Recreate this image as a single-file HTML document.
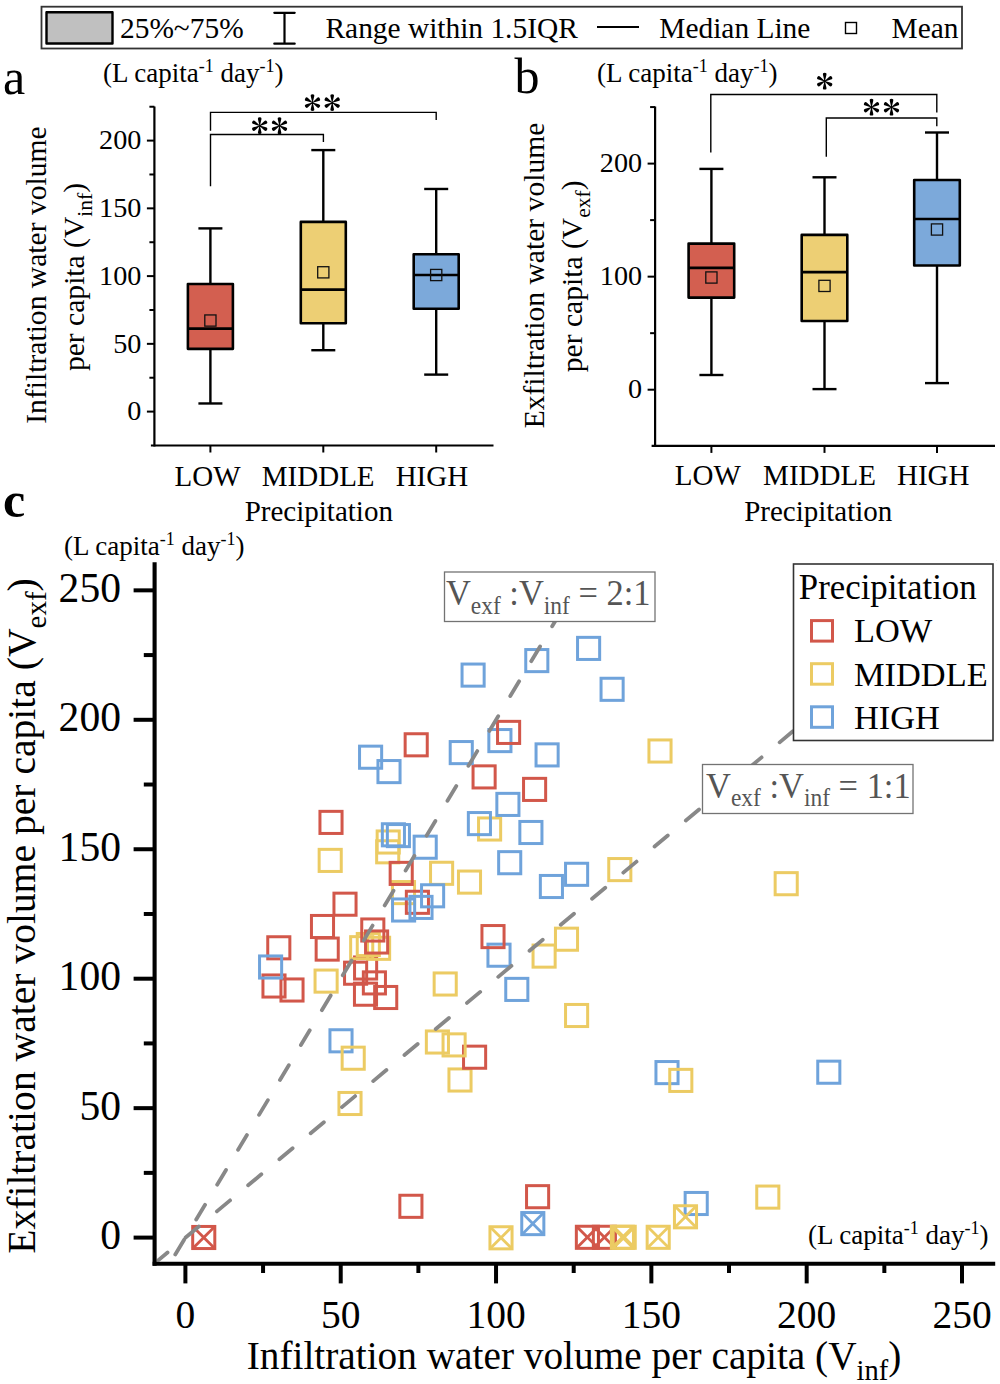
<!DOCTYPE html>
<html><head><meta charset="utf-8"><style>
html,body{margin:0;padding:0;background:#fff;}
svg{display:block;font-family:"Liberation Serif",serif;}
</style></head><body>
<svg width="1000" height="1384" viewBox="0 0 1000 1384">
<rect x="0" y="0" width="1000" height="1384" fill="#fff"/>
<rect x="41.5" y="6.7" width="920.5" height="41.8" fill="#fff" stroke="#333" stroke-width="1.8" />
<rect x="46.5" y="12.3" width="66" height="31.2" fill="#C0C0C0" stroke="#000" stroke-width="2.4" stroke-linejoin="round"/>
<text x="120" y="38.3" font-size="29.4" text-anchor="start" fill="#000" >25%~75%</text>
<line x1="284.5" y1="12.8" x2="284.5" y2="43.7" stroke="#000" stroke-width="2.2" />
<line x1="274.3" y1="12.8" x2="294.7" y2="12.8" stroke="#000" stroke-width="2.2" stroke-linecap="round"/>
<line x1="274.3" y1="43.7" x2="294.7" y2="43.7" stroke="#000" stroke-width="2.2" stroke-linecap="round"/>
<text x="325.5" y="38.3" font-size="29.4" text-anchor="start" fill="#000" >Range within 1.5IQR</text>
<line x1="597" y1="27" x2="639" y2="27" stroke="#000" stroke-width="2" />
<text x="659.3" y="38.3" font-size="29.4" text-anchor="start" fill="#000" >Median Line</text>
<rect x="845.5" y="22.5" width="11" height="11" fill="none" stroke="#000" stroke-width="1.4" />
<text x="891.5" y="38.3" font-size="29.4" text-anchor="start" fill="#000" >Mean</text>
<text x="3" y="94" font-size="50" text-anchor="start" fill="#000" >a</text>
<text x="514.5" y="92.5" font-size="50" text-anchor="start" fill="#000" >b</text>
<text x="3" y="517.3" font-size="50" text-anchor="start" fill="#000" font-weight="bold">c</text>
<line x1="154.4" y1="106.5" x2="154.4" y2="446.6" stroke="#000" stroke-width="2.2" />
<line x1="150.9" y1="445.5" x2="493.5" y2="445.5" stroke="#000" stroke-width="2.2" />
<line x1="146.9" y1="411.6" x2="154.4" y2="411.6" stroke="#000" stroke-width="2" />
<text x="141.4" y="420.3" font-size="28.2" text-anchor="end" fill="#000" >0</text>
<line x1="146.9" y1="343.85" x2="154.4" y2="343.85" stroke="#000" stroke-width="2" />
<text x="141.4" y="352.55" font-size="28.2" text-anchor="end" fill="#000" >50</text>
<line x1="146.9" y1="276.1" x2="154.4" y2="276.1" stroke="#000" stroke-width="2" />
<text x="141.4" y="284.8" font-size="28.2" text-anchor="end" fill="#000" >100</text>
<line x1="146.9" y1="208.35" x2="154.4" y2="208.35" stroke="#000" stroke-width="2" />
<text x="141.4" y="217.05" font-size="28.2" text-anchor="end" fill="#000" >150</text>
<line x1="146.9" y1="140.6" x2="154.4" y2="140.6" stroke="#000" stroke-width="2" />
<text x="141.4" y="149.3" font-size="28.2" text-anchor="end" fill="#000" >200</text>
<line x1="149.4" y1="377.73" x2="154.4" y2="377.73" stroke="#000" stroke-width="2" />
<line x1="149.4" y1="309.98" x2="154.4" y2="309.98" stroke="#000" stroke-width="2" />
<line x1="149.4" y1="242.23" x2="154.4" y2="242.23" stroke="#000" stroke-width="2" />
<line x1="149.4" y1="174.48" x2="154.4" y2="174.48" stroke="#000" stroke-width="2" />
<line x1="149.4" y1="106.73" x2="154.4" y2="106.73" stroke="#000" stroke-width="2" />
<line x1="210.4" y1="445.5" x2="210.4" y2="452.5" stroke="#000" stroke-width="2" />
<line x1="323.3" y1="445.5" x2="323.3" y2="452.5" stroke="#000" stroke-width="2" />
<line x1="436.2" y1="445.5" x2="436.2" y2="452.5" stroke="#000" stroke-width="2" />
<line x1="210.4" y1="228.4" x2="210.4" y2="283.96" stroke="#000" stroke-width="2.4" />
<line x1="210.4" y1="348.86" x2="210.4" y2="403.47" stroke="#000" stroke-width="2.4" />
<line x1="198.4" y1="228.4" x2="222.4" y2="228.4" stroke="#000" stroke-width="2.4" />
<line x1="198.4" y1="403.47" x2="222.4" y2="403.47" stroke="#000" stroke-width="2.4" />
<rect x="187.9" y="283.96" width="45" height="64.9" fill="#D35F50" stroke="#000" stroke-width="2.6" stroke-linejoin="round"/>
<line x1="187.9" y1="328.67" x2="232.9" y2="328.67" stroke="#000" stroke-width="2.6" />
<rect x="204.8" y="314.94" width="11.2" height="11.2" fill="none" stroke="#111" stroke-width="1.3" />
<line x1="323.3" y1="150.09" x2="323.3" y2="221.9" stroke="#000" stroke-width="2.4" />
<line x1="323.3" y1="323.25" x2="323.3" y2="350.22" stroke="#000" stroke-width="2.4" />
<line x1="311.3" y1="150.09" x2="335.3" y2="150.09" stroke="#000" stroke-width="2.4" />
<line x1="311.3" y1="350.22" x2="335.3" y2="350.22" stroke="#000" stroke-width="2.4" />
<rect x="300.8" y="221.9" width="45" height="101.35" fill="#EDCF74" stroke="#000" stroke-width="2.6" stroke-linejoin="round"/>
<line x1="300.8" y1="289.65" x2="345.8" y2="289.65" stroke="#000" stroke-width="2.6" />
<rect x="317.7" y="266.71" width="11.2" height="11.2" fill="none" stroke="#111" stroke-width="1.3" />
<line x1="436.2" y1="188.97" x2="436.2" y2="254.28" stroke="#000" stroke-width="2.4" />
<line x1="436.2" y1="308.76" x2="436.2" y2="374.61" stroke="#000" stroke-width="2.4" />
<line x1="424.2" y1="188.97" x2="448.2" y2="188.97" stroke="#000" stroke-width="2.4" />
<line x1="424.2" y1="374.61" x2="448.2" y2="374.61" stroke="#000" stroke-width="2.4" />
<rect x="413.7" y="254.28" width="45" height="54.47" fill="#7CA9DA" stroke="#000" stroke-width="2.6" stroke-linejoin="round"/>
<line x1="413.7" y1="275.02" x2="458.7" y2="275.02" stroke="#000" stroke-width="2.6" />
<rect x="430.6" y="269.42" width="11.2" height="11.2" fill="none" stroke="#111" stroke-width="1.3" />
<line x1="655.1" y1="106.6" x2="655.1" y2="447" stroke="#000" stroke-width="2.2" />
<line x1="651.6" y1="445.9" x2="995" y2="445.9" stroke="#000" stroke-width="2.2" />
<line x1="647.6" y1="389.7" x2="655.1" y2="389.7" stroke="#000" stroke-width="2" />
<text x="642.1" y="398.4" font-size="28.2" text-anchor="end" fill="#000" >0</text>
<line x1="647.6" y1="276.65" x2="655.1" y2="276.65" stroke="#000" stroke-width="2" />
<text x="642.1" y="285.35" font-size="28.2" text-anchor="end" fill="#000" >100</text>
<line x1="647.6" y1="163.6" x2="655.1" y2="163.6" stroke="#000" stroke-width="2" />
<text x="642.1" y="172.3" font-size="28.2" text-anchor="end" fill="#000" >200</text>
<line x1="650.1" y1="333.17" x2="655.1" y2="333.17" stroke="#000" stroke-width="2" />
<line x1="650.1" y1="220.12" x2="655.1" y2="220.12" stroke="#000" stroke-width="2" />
<line x1="650.1" y1="107.07" x2="655.1" y2="107.07" stroke="#000" stroke-width="2" />
<line x1="711.4" y1="445.9" x2="711.4" y2="452.9" stroke="#000" stroke-width="2" />
<line x1="824.5" y1="445.9" x2="824.5" y2="452.9" stroke="#000" stroke-width="2" />
<line x1="937" y1="445.9" x2="937" y2="452.9" stroke="#000" stroke-width="2" />
<line x1="711.4" y1="168.9" x2="711.4" y2="243.6" stroke="#000" stroke-width="2.4" />
<line x1="711.4" y1="297.6" x2="711.4" y2="375" stroke="#000" stroke-width="2.4" />
<line x1="699.4" y1="168.9" x2="723.4" y2="168.9" stroke="#000" stroke-width="2.4" />
<line x1="699.4" y1="375" x2="723.4" y2="375" stroke="#000" stroke-width="2.4" />
<rect x="688.6" y="243.6" width="45.6" height="54" fill="#D35F50" stroke="#000" stroke-width="2.6" stroke-linejoin="round"/>
<line x1="688.6" y1="267.9" x2="734.2" y2="267.9" stroke="#000" stroke-width="2.6" />
<rect x="705.8" y="271.9" width="11.2" height="11.2" fill="none" stroke="#111" stroke-width="1.3" />
<line x1="824.5" y1="177.3" x2="824.5" y2="234.9" stroke="#000" stroke-width="2.4" />
<line x1="824.5" y1="321" x2="824.5" y2="389.1" stroke="#000" stroke-width="2.4" />
<line x1="812.5" y1="177.3" x2="836.5" y2="177.3" stroke="#000" stroke-width="2.4" />
<line x1="812.5" y1="389.1" x2="836.5" y2="389.1" stroke="#000" stroke-width="2.4" />
<rect x="801.7" y="234.9" width="45.6" height="86.1" fill="#EDCF74" stroke="#000" stroke-width="2.6" stroke-linejoin="round"/>
<line x1="801.7" y1="272.1" x2="847.3" y2="272.1" stroke="#000" stroke-width="2.6" />
<rect x="818.9" y="280.3" width="11.2" height="11.2" fill="none" stroke="#111" stroke-width="1.3" />
<line x1="937" y1="132.5" x2="937" y2="180" stroke="#000" stroke-width="2.4" />
<line x1="937" y1="265.5" x2="937" y2="383.1" stroke="#000" stroke-width="2.4" />
<line x1="925" y1="132.5" x2="949" y2="132.5" stroke="#000" stroke-width="2.4" />
<line x1="925" y1="383.1" x2="949" y2="383.1" stroke="#000" stroke-width="2.4" />
<rect x="914.2" y="180" width="45.6" height="85.5" fill="#7CA9DA" stroke="#000" stroke-width="2.6" stroke-linejoin="round"/>
<line x1="914.2" y1="219" x2="959.8" y2="219" stroke="#000" stroke-width="2.6" />
<rect x="931.4" y="223.9" width="11.2" height="11.2" fill="none" stroke="#111" stroke-width="1.3" />
<text x="207.5" y="485.5" font-size="29" text-anchor="middle" fill="#000" >LOW</text>
<text x="318.2" y="485.5" font-size="29" text-anchor="middle" fill="#000" >MIDDLE</text>
<text x="431.9" y="485.5" font-size="29" text-anchor="middle" fill="#000" >HIGH</text>
<text x="318.8" y="521.3" font-size="29" text-anchor="middle" fill="#000" >Precipitation</text>
<text x="707.75" y="485" font-size="29" text-anchor="middle" fill="#000" >LOW</text>
<text x="819.5" y="485" font-size="29" text-anchor="middle" fill="#000" >MIDDLE</text>
<text x="933.25" y="485" font-size="29" text-anchor="middle" fill="#000" >HIGH</text>
<text x="818.25" y="521" font-size="29" text-anchor="middle" fill="#000" >Precipitation</text>
<text x="103" y="82.2" font-size="27" text-anchor="start" fill="#000" >(L capita<tspan font-size="18" dy="-10.5">-1</tspan><tspan dy="10.5"> day</tspan><tspan font-size="18" dy="-10.5">-1</tspan><tspan dy="10.5">)</tspan></text>
<text x="597" y="82.2" font-size="27" text-anchor="start" fill="#000" >(L capita<tspan font-size="18" dy="-10.5">-1</tspan><tspan dy="10.5"> day</tspan><tspan font-size="18" dy="-10.5">-1</tspan><tspan dy="10.5">)</tspan></text>
<text transform="translate(46.4,275) rotate(-90)" font-size="29.6" text-anchor="middle">Infiltration water volume</text>
<text transform="translate(84,277) rotate(-90)" font-size="29.6" text-anchor="middle">per capita (V<tspan font-size="21.5" dy="8">inf</tspan><tspan dy="-8">)</tspan></text>
<text transform="translate(544.4,275.5) rotate(-90)" font-size="29.6" text-anchor="middle">Exfiltration water volume</text>
<text transform="translate(581.6,276.4) rotate(-90)" font-size="29.6" text-anchor="middle">per capita (V<tspan font-size="21.5" dy="8">exf</tspan><tspan dy="-8">)</tspan></text>
<polyline points="210.5,130.7 210.5,112.4 436.2,112.4 436.2,120" fill="none" stroke="#000" stroke-width="1.4"/>
<polyline points="210.5,186.2 210.5,134.5 323.4,134.5 323.4,142" fill="none" stroke="#000" stroke-width="1.4"/>
<polyline points="710.8,152.5 710.8,94.5 936.8,94.5 936.8,112.5" fill="none" stroke="#000" stroke-width="1.4"/>
<polyline points="826.3,156.8 826.3,118 936.8,118 936.8,126.3" fill="none" stroke="#000" stroke-width="1.4"/>
<path d="M312.25,102.6 L310.81,96.41 A1.75,1.75 0 1 1 314.19,96.41 L312.75,102.6 Z M312.38,102.38 L317.02,98.04 A1.75,1.75 0 1 1 318.7,100.97 L312.62,102.82 Z M312.62,102.38 L318.7,104.23 A1.75,1.75 0 1 1 317.02,107.16 L312.38,102.82 Z M312.75,102.6 L314.19,108.79 A1.75,1.75 0 1 1 310.81,108.79 L312.25,102.6 Z M312.62,102.82 L307.98,107.16 A1.75,1.75 0 1 1 306.3,104.23 L312.38,102.38 Z M312.38,102.82 L306.3,100.97 A1.75,1.75 0 1 1 307.98,98.04 L312.62,102.38 Z" fill="#000"/>
<path d="M331.95,102.6 L330.51,96.41 A1.75,1.75 0 1 1 333.89,96.41 L332.45,102.6 Z M332.07,102.38 L336.72,98.04 A1.75,1.75 0 1 1 338.4,100.97 L332.32,102.82 Z M332.32,102.38 L338.4,104.23 A1.75,1.75 0 1 1 336.72,107.16 L332.07,102.82 Z M332.45,102.6 L333.89,108.79 A1.75,1.75 0 1 1 330.51,108.79 L331.95,102.6 Z M332.32,102.82 L327.68,107.16 A1.75,1.75 0 1 1 326,104.23 L332.07,102.38 Z M332.07,102.82 L326,100.97 A1.75,1.75 0 1 1 327.68,98.04 L332.32,102.38 Z" fill="#000"/>
<path d="M259.45,125.7 L258.01,119.51 A1.75,1.75 0 1 1 261.39,119.51 L259.95,125.7 Z M259.57,125.48 L264.22,121.14 A1.75,1.75 0 1 1 265.9,124.07 L259.82,125.92 Z M259.82,125.48 L265.9,127.33 A1.75,1.75 0 1 1 264.22,130.26 L259.57,125.92 Z M259.95,125.7 L261.39,131.89 A1.75,1.75 0 1 1 258.01,131.89 L259.45,125.7 Z M259.82,125.92 L255.18,130.26 A1.75,1.75 0 1 1 253.5,127.33 L259.57,125.48 Z M259.57,125.92 L253.5,124.07 A1.75,1.75 0 1 1 255.18,121.14 L259.82,125.48 Z" fill="#000"/>
<path d="M279.25,125.7 L277.81,119.51 A1.75,1.75 0 1 1 281.19,119.51 L279.75,125.7 Z M279.38,125.48 L284.02,121.14 A1.75,1.75 0 1 1 285.7,124.07 L279.62,125.92 Z M279.62,125.48 L285.7,127.33 A1.75,1.75 0 1 1 284.02,130.26 L279.38,125.92 Z M279.75,125.7 L281.19,131.89 A1.75,1.75 0 1 1 277.81,131.89 L279.25,125.7 Z M279.62,125.92 L274.98,130.26 A1.75,1.75 0 1 1 273.3,127.33 L279.38,125.48 Z M279.38,125.92 L273.3,124.07 A1.75,1.75 0 1 1 274.98,121.14 L279.62,125.48 Z" fill="#000"/>
<path d="M824.45,81.2 L823.01,75.01 A1.75,1.75 0 1 1 826.39,75.01 L824.95,81.2 Z M824.58,80.98 L829.22,76.64 A1.75,1.75 0 1 1 830.9,79.57 L824.83,81.42 Z M824.83,80.98 L830.9,82.83 A1.75,1.75 0 1 1 829.22,85.76 L824.58,81.42 Z M824.95,81.2 L826.39,87.39 A1.75,1.75 0 1 1 823.01,87.39 L824.45,81.2 Z M824.83,81.42 L820.18,85.76 A1.75,1.75 0 1 1 818.5,82.83 L824.58,80.98 Z M824.58,81.42 L818.5,79.57 A1.75,1.75 0 1 1 820.18,76.64 L824.83,80.98 Z" fill="#000"/>
<path d="M871.25,107.2 L869.81,101.01 A1.75,1.75 0 1 1 873.19,101.01 L871.75,107.2 Z M871.38,106.98 L876.02,102.64 A1.75,1.75 0 1 1 877.7,105.57 L871.62,107.42 Z M871.62,106.98 L877.7,108.83 A1.75,1.75 0 1 1 876.02,111.76 L871.38,107.42 Z M871.75,107.2 L873.19,113.39 A1.75,1.75 0 1 1 869.81,113.39 L871.25,107.2 Z M871.62,107.42 L866.98,111.76 A1.75,1.75 0 1 1 865.3,108.83 L871.38,106.98 Z M871.38,107.42 L865.3,105.57 A1.75,1.75 0 1 1 866.98,102.64 L871.62,106.98 Z" fill="#000"/>
<path d="M891.25,107.2 L889.81,101.01 A1.75,1.75 0 1 1 893.19,101.01 L891.75,107.2 Z M891.38,106.98 L896.02,102.64 A1.75,1.75 0 1 1 897.7,105.57 L891.62,107.42 Z M891.62,106.98 L897.7,108.83 A1.75,1.75 0 1 1 896.02,111.76 L891.38,107.42 Z M891.75,107.2 L893.19,113.39 A1.75,1.75 0 1 1 889.81,113.39 L891.25,107.2 Z M891.62,107.42 L886.98,111.76 A1.75,1.75 0 1 1 885.3,108.83 L891.38,106.98 Z M891.38,107.42 L885.3,105.57 A1.75,1.75 0 1 1 886.98,102.64 L891.62,106.98 Z" fill="#000"/>
<defs><clipPath id="pc"><rect x="156.6" y="560" width="840" height="701.7"/></clipPath></defs>
<rect x="354.55" y="956.95" width="22.1" height="22.1" fill="none" stroke="#D2574A" stroke-width="3.0" />
<rect x="319.15" y="849.35" width="22.1" height="22.1" fill="none" stroke="#ECCB63" stroke-width="3.0" />
<rect x="377.15" y="830.95" width="22.1" height="22.1" fill="none" stroke="#ECCB63" stroke-width="3.0" />
<rect x="376.65" y="840.75" width="22.1" height="22.1" fill="none" stroke="#ECCB63" stroke-width="3.0" />
<rect x="392.45" y="881.55" width="22.1" height="22.1" fill="none" stroke="#ECCB63" stroke-width="3.0" />
<rect x="430.55" y="862.25" width="22.1" height="22.1" fill="none" stroke="#ECCB63" stroke-width="3.0" />
<rect x="458.45" y="871.05" width="22.1" height="22.1" fill="none" stroke="#ECCB63" stroke-width="3.0" />
<rect x="478.55" y="817.95" width="22.1" height="22.1" fill="none" stroke="#ECCB63" stroke-width="3.0" />
<rect x="608.75" y="858.55" width="22.1" height="22.1" fill="none" stroke="#ECCB63" stroke-width="3.0" />
<rect x="648.95" y="739.95" width="22.1" height="22.1" fill="none" stroke="#ECCB63" stroke-width="3.0" />
<rect x="775.15" y="872.65" width="22.1" height="22.1" fill="none" stroke="#ECCB63" stroke-width="3.0" />
<rect x="315.05" y="970.05" width="22.1" height="22.1" fill="none" stroke="#ECCB63" stroke-width="3.0" />
<rect x="350.65" y="936.65" width="22.1" height="22.1" fill="none" stroke="#ECCB63" stroke-width="3.0" />
<rect x="357.25" y="933.45" width="22.1" height="22.1" fill="none" stroke="#ECCB63" stroke-width="3.0" />
<rect x="367.55" y="937.25" width="22.1" height="22.1" fill="none" stroke="#ECCB63" stroke-width="3.0" />
<rect x="555.45" y="928.15" width="22.1" height="22.1" fill="none" stroke="#ECCB63" stroke-width="3.0" />
<rect x="533.05" y="945.05" width="22.1" height="22.1" fill="none" stroke="#ECCB63" stroke-width="3.0" />
<rect x="434.15" y="972.95" width="22.1" height="22.1" fill="none" stroke="#ECCB63" stroke-width="3.0" />
<rect x="565.55" y="1004.45" width="22.1" height="22.1" fill="none" stroke="#ECCB63" stroke-width="3.0" />
<rect x="426.35" y="1030.95" width="22.1" height="22.1" fill="none" stroke="#ECCB63" stroke-width="3.0" />
<rect x="448.95" y="1068.95" width="22.1" height="22.1" fill="none" stroke="#ECCB63" stroke-width="3.0" />
<rect x="338.95" y="1092.45" width="22.1" height="22.1" fill="none" stroke="#ECCB63" stroke-width="3.0" />
<rect x="756.75" y="1186.05" width="22.1" height="22.1" fill="none" stroke="#ECCB63" stroke-width="3.0" />
<rect x="489.95" y="1226.75" width="22.1" height="22.1" fill="none" stroke="#ECCB63" stroke-width="3.0" />
<line x1="489.95" y1="1226.75" x2="512.05" y2="1248.85" stroke="#ECCB63" stroke-width="2.8" />
<line x1="489.95" y1="1248.85" x2="512.05" y2="1226.75" stroke="#ECCB63" stroke-width="2.8" />
<rect x="647.15" y="1226.25" width="22.1" height="22.1" fill="none" stroke="#ECCB63" stroke-width="3.0" />
<line x1="647.15" y1="1226.25" x2="669.25" y2="1248.35" stroke="#ECCB63" stroke-width="2.8" />
<line x1="647.15" y1="1248.35" x2="669.25" y2="1226.25" stroke="#ECCB63" stroke-width="2.8" />
<rect x="405.15" y="733.75" width="22.1" height="22.1" fill="none" stroke="#D2574A" stroke-width="3.0" />
<rect x="319.95" y="811.35" width="22.1" height="22.1" fill="none" stroke="#D2574A" stroke-width="3.0" />
<rect x="473.05" y="765.85" width="22.1" height="22.1" fill="none" stroke="#D2574A" stroke-width="3.0" />
<rect x="523.55" y="778.35" width="22.1" height="22.1" fill="none" stroke="#D2574A" stroke-width="3.0" />
<rect x="390.15" y="862.35" width="22.1" height="22.1" fill="none" stroke="#D2574A" stroke-width="3.0" />
<rect x="333.95" y="893.15" width="22.1" height="22.1" fill="none" stroke="#D2574A" stroke-width="3.0" />
<rect x="406.35" y="891.25" width="22.1" height="22.1" fill="none" stroke="#D2574A" stroke-width="3.0" />
<rect x="311.45" y="915.45" width="22.1" height="22.1" fill="none" stroke="#D2574A" stroke-width="3.0" />
<rect x="316.15" y="938.05" width="22.1" height="22.1" fill="none" stroke="#D2574A" stroke-width="3.0" />
<rect x="267.75" y="936.75" width="22.1" height="22.1" fill="none" stroke="#D2574A" stroke-width="3.0" />
<rect x="262.95" y="974.95" width="22.1" height="22.1" fill="none" stroke="#D2574A" stroke-width="3.0" />
<rect x="280.95" y="978.95" width="22.1" height="22.1" fill="none" stroke="#D2574A" stroke-width="3.0" />
<rect x="361.75" y="918.95" width="22.1" height="22.1" fill="none" stroke="#D2574A" stroke-width="3.0" />
<rect x="365.55" y="930.95" width="22.1" height="22.1" fill="none" stroke="#D2574A" stroke-width="3.0" />
<rect x="344.55" y="962.15" width="22.1" height="22.1" fill="none" stroke="#D2574A" stroke-width="3.0" />
<rect x="363.35" y="971.85" width="22.1" height="22.1" fill="none" stroke="#D2574A" stroke-width="3.0" />
<rect x="354.45" y="983.15" width="22.1" height="22.1" fill="none" stroke="#D2574A" stroke-width="3.0" />
<rect x="374.65" y="986.45" width="22.1" height="22.1" fill="none" stroke="#D2574A" stroke-width="3.0" />
<rect x="463.55" y="1046.15" width="22.1" height="22.1" fill="none" stroke="#D2574A" stroke-width="3.0" />
<rect x="399.85" y="1195.25" width="22.1" height="22.1" fill="none" stroke="#D2574A" stroke-width="3.0" />
<rect x="526.55" y="1185.65" width="22.1" height="22.1" fill="none" stroke="#D2574A" stroke-width="3.0" />
<rect x="192.7" y="1226.45" width="22.1" height="22.1" fill="none" stroke="#D2574A" stroke-width="3.0" />
<line x1="192.7" y1="1226.45" x2="214.8" y2="1248.55" stroke="#D2574A" stroke-width="2.8" />
<line x1="192.7" y1="1248.55" x2="214.8" y2="1226.45" stroke="#D2574A" stroke-width="2.8" />
<rect x="576.35" y="1226.25" width="22.1" height="22.1" fill="none" stroke="#D2574A" stroke-width="3.0" />
<line x1="576.35" y1="1226.25" x2="598.45" y2="1248.35" stroke="#D2574A" stroke-width="2.8" />
<line x1="576.35" y1="1248.35" x2="598.45" y2="1226.25" stroke="#D2574A" stroke-width="2.8" />
<rect x="593.35" y="1226.25" width="22.1" height="22.1" fill="none" stroke="#D2574A" stroke-width="3.0" />
<line x1="593.35" y1="1226.25" x2="615.45" y2="1248.35" stroke="#D2574A" stroke-width="2.8" />
<line x1="593.35" y1="1248.35" x2="615.45" y2="1226.25" stroke="#D2574A" stroke-width="2.8" />
<rect x="443.05" y="1033.85" width="22.1" height="22.1" fill="none" stroke="#ECCB63" stroke-width="3.0" />
<rect x="611.35" y="1226.25" width="22.1" height="22.1" fill="none" stroke="#ECCB63" stroke-width="3.0" />
<line x1="611.35" y1="1226.25" x2="633.45" y2="1248.35" stroke="#ECCB63" stroke-width="2.8" />
<line x1="611.35" y1="1248.35" x2="633.45" y2="1226.25" stroke="#ECCB63" stroke-width="2.8" />
<rect x="613.15" y="1226.25" width="22.1" height="22.1" fill="none" stroke="#ECCB63" stroke-width="3.0" />
<line x1="613.15" y1="1226.25" x2="635.25" y2="1248.35" stroke="#ECCB63" stroke-width="2.8" />
<line x1="613.15" y1="1248.35" x2="635.25" y2="1226.25" stroke="#ECCB63" stroke-width="2.8" />
<rect x="359.55" y="746.15" width="22.1" height="22.1" fill="none" stroke="#6FA3DB" stroke-width="3.0" />
<rect x="377.95" y="760.55" width="22.1" height="22.1" fill="none" stroke="#6FA3DB" stroke-width="3.0" />
<rect x="382.35" y="823.75" width="22.1" height="22.1" fill="none" stroke="#6FA3DB" stroke-width="3.0" />
<rect x="387.35" y="824.55" width="22.1" height="22.1" fill="none" stroke="#6FA3DB" stroke-width="3.0" />
<rect x="414.15" y="836.15" width="22.1" height="22.1" fill="none" stroke="#6FA3DB" stroke-width="3.0" />
<rect x="421.55" y="884.75" width="22.1" height="22.1" fill="none" stroke="#6FA3DB" stroke-width="3.0" />
<rect x="409.95" y="896.35" width="22.1" height="22.1" fill="none" stroke="#6FA3DB" stroke-width="3.0" />
<rect x="392.55" y="898.95" width="22.1" height="22.1" fill="none" stroke="#6FA3DB" stroke-width="3.0" />
<rect x="259.55" y="955.95" width="22.1" height="22.1" fill="none" stroke="#6FA3DB" stroke-width="3.0" />
<rect x="525.75" y="649.55" width="22.1" height="22.1" fill="none" stroke="#6FA3DB" stroke-width="3.0" />
<rect x="577.55" y="637.35" width="22.1" height="22.1" fill="none" stroke="#6FA3DB" stroke-width="3.0" />
<rect x="462.05" y="664.05" width="22.1" height="22.1" fill="none" stroke="#6FA3DB" stroke-width="3.0" />
<rect x="601.05" y="678.25" width="22.1" height="22.1" fill="none" stroke="#6FA3DB" stroke-width="3.0" />
<rect x="488.85" y="729.55" width="22.1" height="22.1" fill="none" stroke="#6FA3DB" stroke-width="3.0" />
<rect x="450.2" y="741.55" width="22.1" height="22.1" fill="none" stroke="#6FA3DB" stroke-width="3.0" />
<rect x="536.05" y="743.85" width="22.1" height="22.1" fill="none" stroke="#6FA3DB" stroke-width="3.0" />
<rect x="496.85" y="793.35" width="22.1" height="22.1" fill="none" stroke="#6FA3DB" stroke-width="3.0" />
<rect x="468.35" y="812.55" width="22.1" height="22.1" fill="none" stroke="#6FA3DB" stroke-width="3.0" />
<rect x="519.85" y="821.45" width="22.1" height="22.1" fill="none" stroke="#6FA3DB" stroke-width="3.0" />
<rect x="498.65" y="851.65" width="22.1" height="22.1" fill="none" stroke="#6FA3DB" stroke-width="3.0" />
<rect x="565.55" y="863.25" width="22.1" height="22.1" fill="none" stroke="#6FA3DB" stroke-width="3.0" />
<rect x="540.35" y="875.45" width="22.1" height="22.1" fill="none" stroke="#6FA3DB" stroke-width="3.0" />
<rect x="487.95" y="944.15" width="22.1" height="22.1" fill="none" stroke="#6FA3DB" stroke-width="3.0" />
<rect x="505.75" y="978.35" width="22.1" height="22.1" fill="none" stroke="#6FA3DB" stroke-width="3.0" />
<rect x="329.95" y="1029.75" width="22.1" height="22.1" fill="none" stroke="#6FA3DB" stroke-width="3.0" />
<rect x="655.95" y="1061.55" width="22.1" height="22.1" fill="none" stroke="#6FA3DB" stroke-width="3.0" />
<rect x="817.75" y="1061.15" width="22.1" height="22.1" fill="none" stroke="#6FA3DB" stroke-width="3.0" />
<rect x="685.15" y="1192.45" width="22.1" height="22.1" fill="none" stroke="#6FA3DB" stroke-width="3.0" />
<rect x="521.75" y="1212.55" width="22.1" height="22.1" fill="none" stroke="#6FA3DB" stroke-width="3.0" />
<line x1="521.75" y1="1212.55" x2="543.85" y2="1234.65" stroke="#6FA3DB" stroke-width="2.8" />
<line x1="521.75" y1="1234.65" x2="543.85" y2="1212.55" stroke="#6FA3DB" stroke-width="2.8" />
<rect x="342.15" y="1047.15" width="22.1" height="22.1" fill="none" stroke="#ECCB63" stroke-width="3.0" />
<rect x="669.75" y="1069.35" width="22.1" height="22.1" fill="none" stroke="#ECCB63" stroke-width="3.0" />
<rect x="674.45" y="1205.75" width="22.1" height="22.1" fill="none" stroke="#ECCB63" stroke-width="3.0" />
<line x1="674.45" y1="1205.75" x2="696.55" y2="1227.85" stroke="#ECCB63" stroke-width="2.8" />
<line x1="674.45" y1="1227.85" x2="696.55" y2="1205.75" stroke="#ECCB63" stroke-width="2.8" />
<rect x="497.55" y="721.35" width="22.1" height="22.1" fill="none" stroke="#D2574A" stroke-width="3.0" />
<rect x="481.95" y="925.55" width="22.1" height="22.1" fill="none" stroke="#D2574A" stroke-width="3.0" />
<g clip-path="url(#pc)">
<line x1="154.34" y1="1263.49" x2="999.28" y2="559.28" stroke="#888" stroke-width="3.8" stroke-dasharray="17.2 23.5" stroke-linecap="round" fill="none"/>
<line x1="154.34" y1="1289.38" x2="592.34" y2="559.28" stroke="#888" stroke-width="3.8" stroke-dasharray="17.2 23.5" stroke-linecap="round" fill="none"/>
</g>
<line x1="154.6" y1="562.2" x2="154.6" y2="1265.7" stroke="#000" stroke-width="4.1"/>
<line x1="152.6" y1="1263.7" x2="995.2" y2="1263.7" stroke="#000" stroke-width="4"/>
<line x1="133.6" y1="1237.6" x2="154.6" y2="1237.6" stroke="#000" stroke-width="4"/>
<text x="121" y="1249" font-size="41.6" text-anchor="end" fill="#000" >0</text>
<line x1="133.6" y1="1108.15" x2="154.6" y2="1108.15" stroke="#000" stroke-width="4"/>
<text x="121" y="1119.55" font-size="41.6" text-anchor="end" fill="#000" >50</text>
<line x1="133.6" y1="978.7" x2="154.6" y2="978.7" stroke="#000" stroke-width="4"/>
<text x="121" y="990.1" font-size="41.6" text-anchor="end" fill="#000" >100</text>
<line x1="133.6" y1="849.25" x2="154.6" y2="849.25" stroke="#000" stroke-width="4"/>
<text x="121" y="860.65" font-size="41.6" text-anchor="end" fill="#000" >150</text>
<line x1="133.6" y1="719.8" x2="154.6" y2="719.8" stroke="#000" stroke-width="4"/>
<text x="121" y="731.2" font-size="41.6" text-anchor="end" fill="#000" >200</text>
<line x1="133.6" y1="590.35" x2="154.6" y2="590.35" stroke="#000" stroke-width="4"/>
<text x="121" y="601.75" font-size="41.6" text-anchor="end" fill="#000" >250</text>
<line x1="143.8" y1="1172.88" x2="154.6" y2="1172.88" stroke="#000" stroke-width="4"/>
<line x1="143.8" y1="1043.42" x2="154.6" y2="1043.42" stroke="#000" stroke-width="4"/>
<line x1="143.8" y1="913.97" x2="154.6" y2="913.97" stroke="#000" stroke-width="4"/>
<line x1="143.8" y1="784.52" x2="154.6" y2="784.52" stroke="#000" stroke-width="4"/>
<line x1="143.8" y1="655.07" x2="154.6" y2="655.07" stroke="#000" stroke-width="4"/>
<line x1="185.4" y1="1263.7" x2="185.4" y2="1283.4" stroke="#000" stroke-width="4"/>
<text x="185.4" y="1328" font-size="39.5" text-anchor="middle" fill="#000" >0</text>
<line x1="340.72" y1="1263.7" x2="340.72" y2="1283.4" stroke="#000" stroke-width="4"/>
<text x="340.72" y="1328" font-size="39.5" text-anchor="middle" fill="#000" >50</text>
<line x1="496.04" y1="1263.7" x2="496.04" y2="1283.4" stroke="#000" stroke-width="4"/>
<text x="496.04" y="1328" font-size="39.5" text-anchor="middle" fill="#000" >100</text>
<line x1="651.36" y1="1263.7" x2="651.36" y2="1283.4" stroke="#000" stroke-width="4"/>
<text x="651.36" y="1328" font-size="39.5" text-anchor="middle" fill="#000" >150</text>
<line x1="806.68" y1="1263.7" x2="806.68" y2="1283.4" stroke="#000" stroke-width="4"/>
<text x="806.68" y="1328" font-size="39.5" text-anchor="middle" fill="#000" >200</text>
<line x1="962" y1="1263.7" x2="962" y2="1283.4" stroke="#000" stroke-width="4"/>
<text x="962" y="1328" font-size="39.5" text-anchor="middle" fill="#000" >250</text>
<line x1="263.06" y1="1263.7" x2="263.06" y2="1273" stroke="#000" stroke-width="4"/>
<line x1="418.38" y1="1263.7" x2="418.38" y2="1273" stroke="#000" stroke-width="4"/>
<line x1="573.7" y1="1263.7" x2="573.7" y2="1273" stroke="#000" stroke-width="4"/>
<line x1="729.02" y1="1263.7" x2="729.02" y2="1273" stroke="#000" stroke-width="4"/>
<line x1="884.34" y1="1263.7" x2="884.34" y2="1273" stroke="#000" stroke-width="4"/>
<rect x="444.5" y="572" width="210.5" height="49.5" fill="#fff" stroke="#737373" stroke-width="1.3"/>
<text transform="translate(445.9,605.3) scale(0.957,1)" font-size="36" fill="#555">V<tspan font-size="24.5" dy="8.8">exf</tspan><tspan dy="-8.8"> :V</tspan><tspan font-size="24.5" dy="8.8">inf</tspan><tspan dy="-8.8"> = 2:1</tspan></text>
<rect x="702.5" y="764.5" width="210.5" height="49" fill="#fff" stroke="#737373" stroke-width="1.3"/>
<text transform="translate(706.1,797.6) scale(0.957,1)" font-size="36" fill="#555">V<tspan font-size="24.5" dy="8.8">exf</tspan><tspan dy="-8.8"> :V</tspan><tspan font-size="24.5" dy="8.8">inf</tspan><tspan dy="-8.8"> = 1:1</tspan></text>
<rect x="793.5" y="564" width="199.5" height="176.5" fill="#fff" stroke="#333" stroke-width="1.6"/>
<text x="798.8" y="599" font-size="34.8" text-anchor="start" fill="#000" >Precipitation</text>
<rect x="811.5" y="620.6" width="21" height="20.5" fill="none" stroke="#D2574A" stroke-width="3"/>
<text x="854" y="642.4" font-size="34.4" text-anchor="start" fill="#000" >LOW</text>
<rect x="811.5" y="663.7" width="21" height="20.5" fill="none" stroke="#ECCB63" stroke-width="3"/>
<text x="854" y="685.5" font-size="34.4" text-anchor="start" fill="#000" >MIDDLE</text>
<rect x="811.5" y="706.8" width="21" height="20.5" fill="none" stroke="#6FA3DB" stroke-width="3"/>
<text x="854" y="728.6" font-size="34.4" text-anchor="start" fill="#000" >HIGH</text>
<text x="64" y="555.4" font-size="27" text-anchor="start" fill="#000" >(L capita<tspan font-size="18" dy="-10.5">-1</tspan><tspan dy="10.5"> day</tspan><tspan font-size="18" dy="-10.5">-1</tspan><tspan dy="10.5">)</tspan></text>
<text x="808" y="1244" font-size="27" text-anchor="start" fill="#000" >(L capita<tspan font-size="18" dy="-10.5">-1</tspan><tspan dy="10.5"> day</tspan><tspan font-size="18" dy="-10.5">-1</tspan><tspan dy="10.5">)</tspan></text>
<text x="574" y="1368.5" font-size="39.3" text-anchor="middle" fill="#000" >Infiltration water volume per capita (V<tspan font-size="28.5" dy="11">inf</tspan><tspan dy="-11">)</tspan></text>
<text transform="translate(34.8,916) rotate(-90)" font-size="39.6" text-anchor="middle">Exfiltration water volume per capita (V<tspan font-size="29" dy="10.8">exf</tspan><tspan dy="-10.8">)</tspan></text>
</svg>
</body></html>
